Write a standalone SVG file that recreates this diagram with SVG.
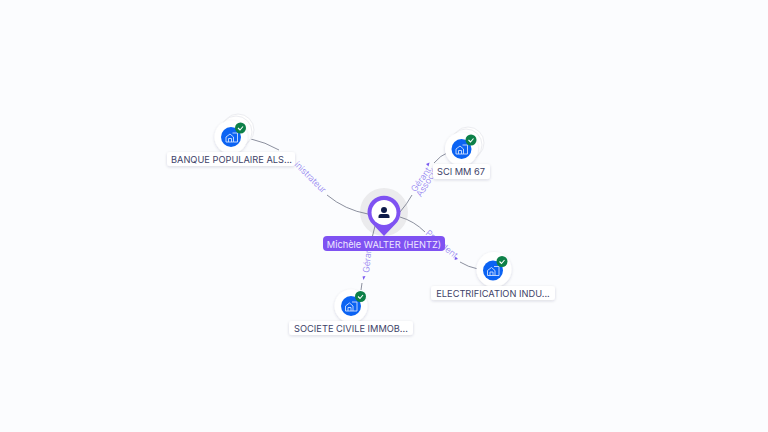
<svg xmlns="http://www.w3.org/2000/svg" width="768" height="432" viewBox="0 0 768 432">
<defs>
<style>
.edge{fill:none;stroke:#6f7385;stroke-width:.8}
.el{font-family:Inter,"Liberation Sans",sans-serif;font-size:8.8px;font-weight:300;fill:#8f7cf0}
.lb{font-family:Inter,"Liberation Sans",sans-serif;font-size:9.25px;fill:#3d4268;text-anchor:middle}
.pill{fill:#fff;filter:url(#s)}
.halo{fill:#fff;stroke:#ecedf1;stroke-width:1}
.disc{fill:#fff;filter:url(#s)}
.blue{fill:#0b63f3}
.chk{fill:#0d8048}
.tick{fill:none;stroke:#fff;stroke-width:1.1}
.ico{fill:none;stroke:#cfe0ff;stroke-width:.9}
.arr{fill:#7a5af0}
</style>
<filter id="s" x="-30%" y="-50%" width="160%" height="200%"><feDropShadow dx="0" dy="1" stdDeviation="1.6" flood-color="#23264a" flood-opacity=".16"/></filter>
<g id="ic"><path class="ico" d="M-5.500 5V0L-1.500-3L2 0V5ZM-3 5V1.500H0V5M1-4H6V5H2"/></g>
</defs>
<rect width="768" height="432" fill="#fbfcfe"/>
<circle id="halo" cx="384" cy="212" r="24" fill="#ebebed"/>
<g id="connectors">
<path class="edge" d="M251 139Q265 142 279 150"/>
<path class="edge" d="M327 195Q345 210 368 214"/>
<path class="edge" d="M400 212Q407 204 412 195"/>
<path class="edge" d="M434 163Q441 155 447 153"/>
<path class="edge" d="M400 217Q414 221 425 232"/>
<path class="edge" d="M460 262Q468 267 478 269"/>
<path class="edge" d="M375 226L372 238"/>
<path class="edge" d="M362 283L361 290"/>
<text class="el" transform="translate(294,165) rotate(45)">inistrateur</text>
<text class="el" transform="translate(415.500,192.500) rotate(-55)">Gérant</text>
<text class="el" transform="translate(421,197.500) rotate(-58)">Associé</text>
<text class="el" transform="translate(425,234) rotate(40)">Président</text>
<text class="el" transform="translate(369,273) rotate(-84)">Gérant</text>
<path class="arr" d="M429.500 162.500l-3.500 1.500 2.500 2.500z"/>
<path class="arr" d="M458 259l-3.500 1 1-3.500z"/>
<path class="arr" d="M363.500 280l-1-3.500 3-.5z"/>
</g>
<g id="node-person">
<path d="M384 236L372.500 224A16.500 16.500 0 1 1 395.500 224Z" fill="#7f52f2"/>
<circle cx="384" cy="212.500" r="12.500" fill="#fff"/>
<circle cx="384" cy="210" r="3" fill="#0e1b4a"/>
<path d="M378.500 218V216.500Q378.500 214 381 214H387Q389.500 214 389.500 216.500V218Z" fill="#0e1b4a"/>
<rect x="323" y="236" width="122" height="15" rx="4" fill="#7f52f2"/>
<text x="384" y="247.500" text-anchor="middle" font-family="Inter,'Liberation Sans',sans-serif" font-size="9.25" fill="#efe9ff">Michèle WALTER (HENTZ)</text>
</g>
<g id="node-banque">
<circle class="halo" cx="238" cy="130" r="16"/><circle class="halo" cx="236" cy="132" r="16"/>
<circle class="disc" cx="231" cy="137" r="16.500"/>
<circle class="blue" cx="231" cy="137" r="10"/>
<use href="#ic" x="231.500" y="137"/>
<circle class="chk" cx="240.500" cy="128" r="5.500"/><path class="tick" d="M238 128l2 2 3-3.500"/>
<rect class="pill" x="167" y="152" width="128" height="14" rx="3"/>
<text class="lb" x="231.500" y="162.500">BANQUE POPULAIRE ALS...</text>
</g>
<g id="node-sci">
<circle class="halo" cx="468" cy="143" r="16"/><circle class="halo" cx="466" cy="145" r="16"/>
<circle class="disc" cx="461.500" cy="149" r="16.500"/>
<circle class="blue" cx="461.500" cy="149" r="10"/>
<use href="#ic" x="461.500" y="149"/>
<circle class="chk" cx="471" cy="140" r="5.500"/><path class="tick" d="M468.500 140l2 2 3-3.500"/>
<rect class="pill" x="433" y="164" width="57" height="15" rx="3"/>
<text class="lb" x="461" y="175">SCI MM 67</text>
</g>
<g id="node-electrification">
<circle class="disc" cx="494" cy="269.500" r="17.500"/>
<circle class="blue" cx="493" cy="270.500" r="10"/>
<use href="#ic" x="493" y="270.500"/>
<circle class="chk" cx="502" cy="261.500" r="5.500"/><path class="tick" d="M499.500 261.500l2 2 3-3.500"/>
<rect class="pill" x="431" y="286" width="124" height="14" rx="3"/>
<text class="lb" x="493" y="297">ELECTRIFICATION INDU...</text>
</g>
<g id="node-societe">
<circle class="disc" cx="351" cy="306" r="16.500"/>
<circle class="blue" cx="351" cy="306" r="10"/>
<use href="#ic" x="351" y="306"/>
<circle class="chk" cx="360.500" cy="296.500" r="5.500"/><path class="tick" d="M358 296.500l2 2 3-3.500"/>
<rect class="pill" x="289" y="321" width="124" height="14" rx="3"/>
<text class="lb" x="351" y="332">SOCIETE CIVILE IMMOB...</text>
</g>
</svg>
